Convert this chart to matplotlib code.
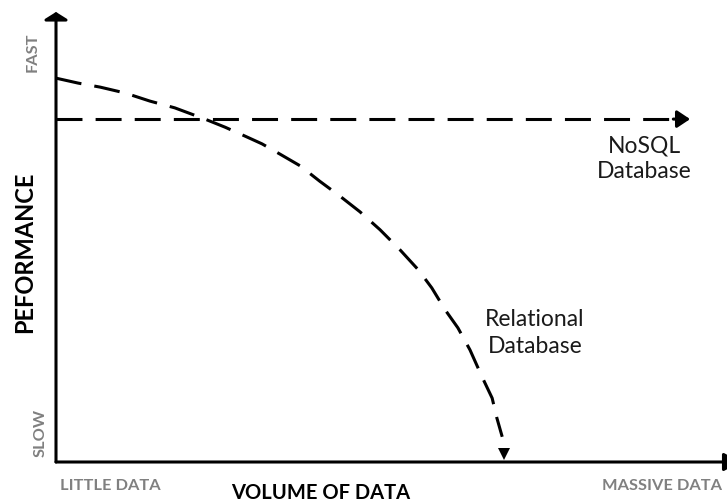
import matplotlib
matplotlib.use("Agg")
import matplotlib.pyplot as plt

plt.rcParams['font.family'] = ['Lato', 'DejaVu Sans']

# volume of data (0 = little, 100 = massive) vs performance (0 = slow, 100 = fast)
nosql_x = [0, 94.5]
nosql_y = [76.2, 76.2]

rel_x = [0, 3.3, 6.6, 10.3, 14.0, 17.7, 22.2, 25.2, 28.2, 30.7, 33.4, 36.4, 39.3,
         42.3, 45.3, 48.3, 51.3, 54.0, 56.0, 58.0, 59.9, 61.7, 63.5, 65.0, 65.7,
         66.5, 66.8]
rel_y = [85.3, 84.2, 83.3, 82.0, 80.2, 78.7, 76.2, 74.4, 72.4, 70.7, 68.4, 65.8, 62.4,
         59.1, 55.6, 51.6, 47.1, 42.7, 38.7, 33.8, 29.8, 24.9, 18.9, 14.2, 9.8,
         5.6, 1.8]

W, H = 727, 504
fig = plt.figure(figsize=(W / 100, H / 100), dpi=100)
ax = fig.add_axes([56 / W, (H - 462) / H, (W - 56) / W, (462 - 12) / H])
ax.set_xlim(0, 100)
ax.set_ylim(0, 100)
ax.axis('off')

lw = 2.2
dash = (0, (8.5, 4.3))

# axes with arrows
ax.annotate('', xy=(102, 0), xytext=(0, 0), annotation_clip=False,
            arrowprops=dict(arrowstyle='-|>,head_length=0.55,head_width=0.3', lw=lw,
                            color='black', mutation_scale=18, shrinkA=0, shrinkB=0))
ax.annotate('', xy=(0, 100), xytext=(0, 0), annotation_clip=False,
            arrowprops=dict(arrowstyle='-|>,head_length=0.25,head_width=0.4', lw=lw,
                            color='black', mutation_scale=18, shrinkA=0, shrinkB=0))

# NoSQL line
ax.plot(nosql_x[:-1] + [nosql_x[-1] - 1.5], nosql_y, color='black', lw=lw, ls=dash,
        clip_on=False)
ax.annotate('', xy=(nosql_x[-1], nosql_y[-1]), xytext=(nosql_x[-1] - 2.5, nosql_y[-1]),
            arrowprops=dict(arrowstyle='-|>,head_length=0.6,head_width=0.4', lw=lw,
                            color='black', mutation_scale=13, shrinkA=0, shrinkB=0))

# relational curve
ax.plot(rel_x[:-1], rel_y[:-1], color='black', lw=lw, ls=dash, clip_on=False,
        solid_joinstyle='round', dash_joinstyle='round')
ax.plot(rel_x[-1], rel_y[-1], marker='v', color='black', ms=8, mew=0)

gray = '#808080'


def ftext(px, py, s, **kw):
    fig.text(px / W, 1 - py / H, s, **kw)


ftext(33, 52, 'FAST', rotation=90, ha='center', va='center', color=gray,
      fontsize=11.8, fontweight='bold')
ftext(41, 433, 'SLOW', rotation=90, ha='center', va='center', color=gray,
      fontsize=11.8, fontweight='bold')
ftext(25, 252, 'PEFORMANCE', rotation=90, ha='center', va='center', color='black',
      fontsize=17, fontweight='bold')
ftext(60, 486, 'LITTLE DATA', ha='left', va='center', color=gray,
      fontsize=11.8, fontweight='bold')
ftext(722, 486, 'MASSIVE DATA', ha='right', va='center', color=gray,
      fontsize=11.8, fontweight='bold')
ftext(321, 493, 'VOLUME OF DATA', ha='center', va='center', color='black',
      fontsize=14.5, fontweight='bold')
ftext(644, 159, 'NoSQL\nDatabase', ha='center', va='center', color='#1a1a1a',
      fontsize=16.5, linespacing=1.25)
ftext(535, 333, 'Relational\nDatabase', ha='center', va='center', color='#1a1a1a',
      fontsize=16.5, linespacing=1.3)

fig.savefig('out.png', dpi=100)
